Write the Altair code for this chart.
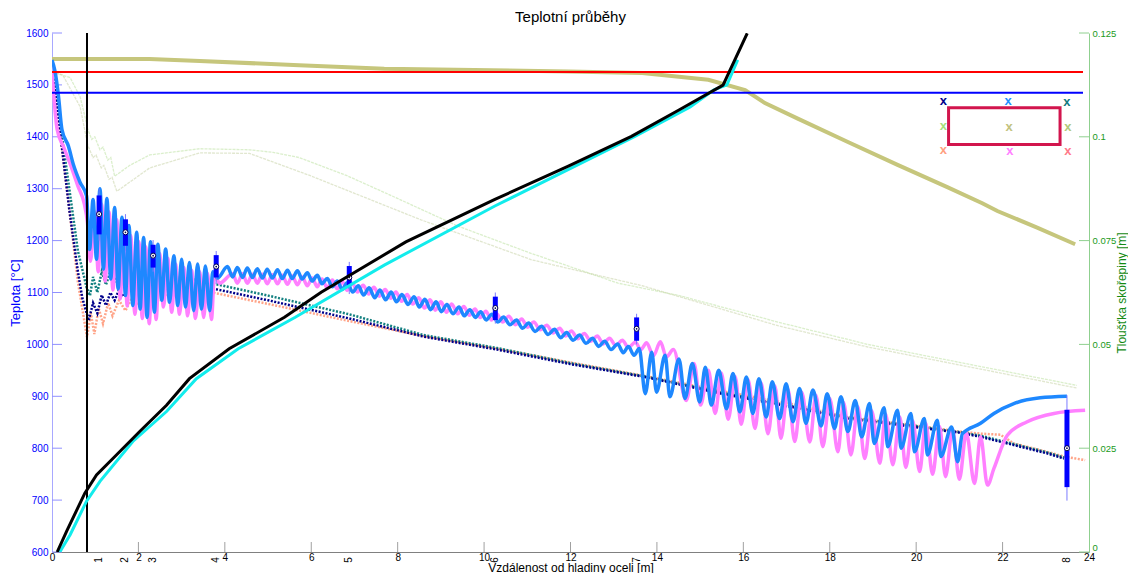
import altair as alt
import pandas as pd

FONT = "Liberation Sans"
W, H = 1037, 519

# ---------------- data (x in m, temperature in °C, thickness in m) ----------------
x_ticks = list(range(0, 25, 2))
x_inner_ticks = list(range(2, 23, 2))
t_ticks = list(range(600, 1601, 100))
d_ticks = [0, 0.025, 0.05, 0.075, 0.1, 0.125]

liquidus_t = 1525
solidus_t = 1485
meniscus_x = 0.81

# surface temperature, middle of top face (blue)
blue_x_start = [0, 0.07, 0.15, 0.23, 0.38, 0.5, 0.65, 0.8, 0.87]
blue_t_start = [1548, 1526, 1478, 1414, 1382, 1345, 1312, 1286, 1183]
blue_x_a = [0.95, 1.03, 1.11, 1.19, 1.27, 1.36, 1.45, 1.53, 1.62, 1.70, 1.78, 1.87, 1.96, 2.04,
            2.12, 2.20, 2.28, 2.37, 2.45, 2.54, 2.63, 2.72, 2.82, 2.91, 3.00, 3.09, 3.18, 3.28,
            3.37, 3.46, 3.55, 3.65, 3.72, 3.83]
blue_t_a = [1279, 1164, 1300, 1145, 1281, 1126, 1264, 1107, 1245, 1094, 1229, 1075, 1216, 1068,
            1206, 1052, 1198, 1062, 1193, 1085, 1184, 1081, 1171, 1075, 1164, 1072, 1158, 1065,
            1155, 1068, 1151, 1065, 1140, 1128]
blue_x_b = [4.06, 4.18, 4.29, 4.41, 4.52, 4.64, 4.75, 4.87, 4.98, 5.10, 5.22, 5.33, 5.45, 5.56,
            5.68, 5.79, 5.91, 6.02, 6.14, 6.25, 6.37, 6.49, 6.60, 6.72, 6.83, 6.96, 7.09, 7.21,
            7.34, 7.47, 7.59, 7.72, 7.85, 7.97, 8.10, 8.24, 8.38, 8.50, 8.63, 8.76, 8.89, 9.01,
            9.14, 9.28, 9.42, 9.54, 9.67, 9.80, 9.92, 10.05, 10.18, 10.32, 10.45, 10.60, 10.75,
            10.89, 11.03, 11.18, 11.33, 11.48, 11.63, 11.77, 11.91, 12.06, 12.21, 12.36, 12.51,
            12.65, 12.79, 12.94, 13.09, 13.22, 13.34, 13.47, 13.59, 13.73]
blue_t_b = [1150, 1130, 1148, 1129, 1147, 1129, 1146, 1128, 1145, 1128, 1144, 1127, 1143, 1127,
            1142, 1126, 1138, 1122, 1133, 1117, 1127, 1111, 1122, 1106, 1119, 1101, 1113, 1095,
            1109, 1090, 1105, 1086, 1101, 1082, 1096, 1077, 1092, 1072, 1087, 1067, 1082, 1063,
            1077, 1059, 1072, 1055, 1067, 1052, 1063, 1047, 1058, 1043, 1053, 1038, 1047,
            1031, 1041, 1025, 1035, 1019, 1029, 1013, 1023, 1008, 1018, 1002, 1012,
            996, 1006, 990, 1001, 984, 996, 979, 992, 905]
blue_x_c = [13.88, 13.99, 14.19, 14.30, 14.51, 14.65, 14.82, 14.99, 15.12, 15.26, 15.43, 15.61,
            15.76, 15.92, 16.07, 16.22, 16.36, 16.53, 16.67, 16.84, 16.99, 17.15, 17.30, 17.45,
            17.61, 17.80, 17.94, 18.11, 18.26, 18.42, 18.59, 18.74, 18.92, 19.03, 19.26, 19.34,
            19.57, 19.65, 19.88, 19.96, 20.19, 20.26, 20.49, 20.57, 20.82, 20.96]
blue_t_c = [985, 908, 979, 899, 972, 896, 963, 889, 956, 883, 950, 876,
            944, 870, 937, 867, 934, 860, 928, 857, 924, 851, 915, 848,
            912, 843, 905, 838, 899, 832, 892, 822, 886, 809, 878, 803,
            873, 800, 867, 793, 857, 787, 854, 784, 841, 774]
blue_x_end = [21.07, 21.49, 21.80, 22.26, 22.87, 23.49]
blue_t_end = [828, 848, 867, 886, 897, 900]

# surface temperature, middle of bottom face (violet)
pink_x_start = [0, 0.12, 0.26, 0.41, 0.6, 0.75, 0.82, 0.89]
pink_t_start = [1526, 1414, 1382, 1350, 1305, 1270, 1235, 1160]
pink_x_a = [0.99, 1.07, 1.15, 1.23, 1.32, 1.41, 1.50, 1.58, 1.66, 1.74, 1.82, 1.92, 2.01, 2.09,
            2.17, 2.25, 2.33, 2.41, 2.49, 2.58, 2.68, 2.77, 2.86, 2.95, 3.05, 3.14, 3.23, 3.32,
            3.42, 3.51, 3.60, 3.69, 3.76, 3.88]
pink_t_a = [1255, 1140, 1270, 1122, 1255, 1105, 1240, 1088, 1225, 1074, 1210, 1058, 1198, 1050,
            1188, 1040, 1180, 1048, 1175, 1072, 1166, 1062, 1155, 1058, 1148, 1055, 1143, 1050,
            1140, 1052, 1137, 1048, 1133, 1118]
pink_x_b = [4.18, 4.29, 4.41, 4.52, 4.64, 4.75, 4.87, 4.98, 5.10, 5.22, 5.33, 5.45, 5.56, 5.68,
            5.79, 5.91, 6.02, 6.14, 6.25, 6.37, 6.49, 6.60, 6.72, 6.83, 6.95, 7.07, 7.20, 7.33,
            7.45, 7.58, 7.71, 7.84, 7.96, 8.09, 8.22, 8.35, 8.49, 8.62, 8.75, 8.87, 9.00, 9.13,
            9.25, 9.39, 9.53, 9.66, 9.79, 9.91, 10.04, 10.17, 10.29, 10.43, 10.57, 10.72, 10.87,
            11.01, 11.15, 11.30, 11.45, 11.60, 11.75, 11.89, 12.02, 12.17, 12.32, 12.47, 12.62,
            12.76, 12.90, 13.05, 13.20, 13.34, 13.50, 13.63, 13.76, 13.92, 14.08, 14.22, 14.38,
            14.68]
pink_t_b = [1136, 1118, 1136, 1118, 1135, 1118, 1135, 1117, 1134, 1117, 1133, 1116, 1132, 1115,
            1130, 1113, 1128, 1111, 1126, 1109, 1124, 1107, 1121, 1104, 1118, 1101, 1114, 1097,
            1110, 1093, 1106, 1089, 1101, 1083, 1096, 1078, 1090, 1070, 1086, 1066, 1082, 1062,
            1078, 1059, 1073, 1056, 1068, 1052, 1064, 1047, 1059, 1043, 1054, 1038, 1049,
            1033, 1043, 1028, 1037, 1022, 1031, 1016, 1026, 1011, 1021, 1006, 1016,
            1001, 1012, 998, 1008, 994, 1004, 990, 1003, 978, 1005, 976, 990,
            892]
pink_x_c = [14.86, 15.01, 15.19, 15.35, 15.49, 15.65, 15.81, 15.95, 16.11, 16.27, 16.41, 16.57,
            16.73, 16.87, 17.03, 17.19, 17.35, 17.54, 17.68, 17.84, 18.00, 18.19, 18.32, 18.49,
            18.65, 18.81, 18.97, 19.16, 19.29, 19.46, 19.62, 19.76, 19.92, 20.08, 20.22, 20.38,
            20.54, 20.68, 20.84, 21.00, 21.16, 21.35, 21.49, 21.65]
pink_t_c = [963, 883, 950, 867, 945, 856, 938, 846, 932, 838, 926, 828,
            920, 819, 914, 813, 908, 812, 902, 803, 896, 793, 888, 787,
            880, 780, 872, 771, 866, 768, 860, 763, 853, 755, 848, 750,
            842, 745, 836, 740, 830, 732, 822, 729]
pink_x_end = [21.80, 22.11, 22.57, 23.19, 23.91]
pink_t_end = [761, 825, 851, 867, 873]

# corner temperatures (dotted)
navy_x = [0, 0.1, 0.2, 0.3, 0.4, 0.5, 0.6, 0.7, 0.85, 0.95, 1.05, 1.15, 1.25, 1.35, 1.45, 1.55,
          1.65, 1.8, 1.95, 2.1, 2.3, 2.5, 2.7, 2.9, 3.1, 3.42, 5.0, 6.88, 8.6, 10.3, 12.0, 13.8,
          15.5, 17.2, 18.42, 19.96, 21.0, 21.49, 22.26, 23.03, 23.42]
navy_t = [1525, 1478, 1400, 1330, 1260, 1200, 1140, 1090, 1046, 1080, 1060, 1095, 1075, 1100,
          1085, 1105, 1092, 1108, 1098, 1110, 1102, 1112, 1106, 1113, 1108, 1113, 1085, 1050,
          1015, 990, 962, 936, 905, 878, 857, 841, 830, 822, 806, 790, 780]
teal_x = [0, 0.2, 0.4, 0.6, 0.8, 0.88, 0.95, 1.05, 1.15, 1.25, 1.35, 1.5, 1.65, 1.8, 2.0, 2.3,
          2.6, 3.0, 3.42, 5.0, 6.88, 8.6, 10.3, 12.0, 13.8, 15.5, 17.2, 18.42, 19.96, 21.0,
          21.49, 22.26, 23.03, 23.42]
teal_t = [1525, 1420, 1300, 1180, 1110, 1094, 1130, 1100, 1140, 1115, 1140, 1120, 1138, 1125,
          1136, 1128, 1133, 1128, 1123, 1094, 1058, 1018, 993, 964, 937, 907, 880, 859, 843,
          831, 824, 808, 792, 782]
salmon_x = [0, 0.2, 0.4, 0.6, 0.81, 0.9, 0.98, 1.08, 1.18, 1.3, 1.4, 1.55, 1.7, 1.85, 2.0, 2.2,
            2.4, 2.7, 3.0, 3.42, 5.0, 6.88, 8.6, 10.3, 12.0, 13.8, 15.5, 17.2, 18.42, 19.96,
            21.0, 21.49, 21.95, 22.26, 23.03, 23.42, 23.91]
salmon_t = [1525, 1400, 1260, 1120, 1014, 1060, 1020, 1070, 1040, 1080, 1055, 1085, 1065, 1090,
            1075, 1093, 1082, 1096, 1092, 1105, 1078, 1045, 1016, 992, 965, 938, 910, 884, 860,
            844, 832, 828, 826, 809, 793, 784, 777]

# side-face temperatures (faint green)
greenA_x = [0, 0.42, 0.65, 0.76, 0.83, 0.92, 0.99, 1.11, 1.18, 1.29, 1.36, 1.45, 1.8, 2.26,
            3.42, 4.57, 5.12, 5.72, 6.83, 8.03, 9.39, 11.1, 11.95, 13.1, 14.52, 16.8, 18.88, 23.72]
greenA_t = [1525, 1514, 1477, 1440, 1414, 1395, 1400, 1375, 1380, 1355, 1360, 1324, 1345, 1365,
            1377, 1375, 1370, 1360, 1325, 1280, 1228, 1175, 1151, 1118, 1094, 1043, 1000, 921]
greenB_x = [0, 0.25, 0.65, 0.83, 0.95, 1.02, 1.14, 1.2, 1.32, 1.39, 1.5, 2.26, 3.42, 4.57, 5.98,
            8.54, 11.1, 13.66, 16.8, 18.88, 23.72]
greenB_t = [1525, 1519, 1458, 1383, 1360, 1365, 1340, 1345, 1318, 1322, 1295, 1340, 1369, 1368,
            1325, 1240, 1163, 1113, 1036, 995, 916]

# centre temperature (olive)
olive_x = [0, 2.26, 3.42, 5.72, 7.69, 11.95, 13.66, 15.19, 16.04, 16.5, 17.26, 18.42, 19.57,
           20.72, 21.53, 21.88, 22.8, 23.68]
olive_t = [1550, 1550, 1546, 1538, 1531, 1526, 1523, 1510, 1490, 1465, 1435, 1390, 1346, 1303,
           1272, 1257, 1225, 1193]

# shell thickness (right axis)
black_x = [0.12, 0.34, 0.76, 1.03, 1.49, 2.03, 2.65, 3.18, 4.10, 5.38, 6.23, 8.19, 10.25, 11.95,
           13.41, 14.52, 15.53, 16.09]
black_d = [0, 0.00504, 0.01416, 0.01855, 0.02335, 0.02903, 0.03534, 0.04175, 0.04894, 0.05655,
           0.06255, 0.07469, 0.08493, 0.09293, 0.10012, 0.10653, 0.11245, 0.12493]
cyan_x = [0.18, 0.42, 0.80, 1.11, 1.87, 2.65, 3.34, 4.31, 5.63, 7.69, 10.25, 13.49, 14.77, 15.32,
          15.62, 15.87]
cyan_d = [0, 0.00415, 0.01224, 0.01703, 0.02663, 0.03383, 0.04175, 0.04894, 0.05655, 0.0691,
          0.08333, 0.10012, 0.10717, 0.11132, 0.11252, 0.11852]

# measurement markers (zones)
zone_lab = ["1", "2", "3", "4", "5", "6", "7", "8"]
zone_x = [1.09, 1.70, 2.34, 3.80, 6.88, 10.26, 13.53, 23.49]
zone_lo = [1200, 1180, 1140, 1116, 1097, 1040, 1000, 699]
zone_q1 = [1212, 1190, 1148, 1129, 1113, 1047, 1007, 725]
zone_med = [1251, 1216, 1171, 1150, 1129, 1070, 1030, 800]
zone_q3 = [1287, 1241, 1192, 1172, 1151, 1092, 1052, 874]
zone_hi = [1300, 1251, 1201, 1180, 1159, 1100, 1059, 902]

# cross-section sketch (legend of positions)
sec_x = [20.75, 23.33]
sec_t = [1456, 1385]
mark_x = [20.63, 22.13, 23.49, 20.63, 22.15, 23.51, 20.63, 22.17, 23.51]
mark_t = [1469, 1469, 1468, 1420, 1419, 1419, 1374, 1373, 1373]
mark_c = ["#00008b", "#1e90ff", "#137a80", "#a6e07a", "#c2c27e", "#b2c87a",
          "#ffa080", "#ff80ff", "#ff7a8a"]

# ---------------- chart ----------------
xs = alt.Scale(domain=[0, 24], nice=False, zero=False)
ts = alt.Scale(domain=[600, 1600], nice=False, zero=False)
dsc = alt.Scale(domain=[0, 0.125], nice=False, zero=False)

x_axis = alt.Axis(values=x_ticks, title="Vzdálenost od hladiny oceli [m]", labelFont=FONT,
                  labelFontSize=10, labelColor="black", ticks=False, domainColor="#808080",
                  grid=False, labelPadding=0, labelFlush=False, titleFont=FONT,
                  titleFontSize=12, titleFontWeight="normal", titleColor="black",
                  titleBaseline="alphabetic", titleY=19)
y_axis = alt.Axis(values=t_ticks, format="d", title="Teplota [°C]", labelFont=FONT,
                  labelFontSize=10, labelColor="#0000ff", ticks=False, labelPadding=4,
                  domainColor="#a8a8ff", grid=False, labelFlush=False, titleFont=FONT,
                  titleFontSize=13, titleFontWeight="normal", titleColor="#0000ff",
                  titlePadding=3)
d_axis = alt.Axis(values=d_ticks, format=".3~f", orient="right", title="Tloušťka skořepiny [m]",
                  labelFont=FONT, labelFontSize=9.5, labelColor="#1a9a1a", ticks=False,
                  labelPadding=3, domainColor="#8fd08f", grid=False, labelFlush=False,
                  labelOffset={"condition": {"test": "datum.value == 0", "value": -5},
                               "value": 0},
                  titleFont=FONT, titleFontSize=12, titleFontWeight="normal",
                  titleColor="#138a13", titleAngle=270, titleBaseline="alphabetic", titleX=36)

X = alt.X("x:Q", scale=xs, axis=x_axis)
Y = alt.Y("y:Q", scale=ts, axis=y_axis)
YD = alt.Y("y:Q", scale=dsc, axis=d_axis)


def frame(x, y):
    return pd.DataFrame({"x": x, "y": y, "i": list(range(len(x)))})


def line(x, y, color, width, dash=None, opacity=1.0, interp="linear", yenc=None):
    kw = dict(color=color, strokeWidth=width, opacity=opacity, clip=True, interpolate=interp)
    if dash:
        kw["strokeDash"] = dash
    return alt.Chart(frame(x, y)).mark_line(**kw).encode(
        x=X, y=yenc if yenc is not None else Y, order=alt.Order("i:Q"))


blue_x = blue_x_start + blue_x_a + blue_x_b + blue_x_c + blue_x_end
blue_t = blue_t_start + blue_t_a + blue_t_b + blue_t_c + blue_t_end
pink_x = pink_x_start + pink_x_a + pink_x_b + pink_x_c + pink_x_end
pink_t = pink_t_start + pink_t_a + pink_t_b + pink_t_c + pink_t_end

bottom_ticks = alt.Chart(pd.DataFrame({"x": x_inner_ticks})).mark_rule(
    color="#a0a0a0", strokeWidth=1).encode(x=X, y=alt.value(H - 10), y2=alt.value(H))
left_ticks = alt.Chart(pd.DataFrame({"y": t_ticks})).mark_rule(
    color="#9090ff", strokeWidth=1).encode(y=Y, x=alt.value(0), x2=alt.value(10))

greenA = line(greenA_x, greenA_t, "#b8e09a", 1.3, dash=[3, 1], opacity=0.5)
greenB = line(greenB_x, greenB_t, "#c4d0a0", 1.3, dash=[3, 1], opacity=0.5)
olive = line(olive_x, olive_t, "#c6c67c", 4)
salmon = line(salmon_x, salmon_t, "#ffa488", 2.5, dash=[2, 1.5])
teal = line(teal_x, teal_t, "#138080", 2.5, dash=[2, 1.5])
navy = line(navy_x, navy_t, "#00008b", 2.5, dash=[2, 1.5])
pink = line(pink_x, pink_t, "#ff80ff", 3.5, interp="monotone")
blue = line(blue_x, blue_t, "#1e88ff", 3.5, interp="monotone")

hlines = alt.Chart(pd.DataFrame({"y": [liquidus_t, solidus_t], "c": ["#ff0000", "#0000ff"]})
                   ).mark_rule(strokeWidth=2).encode(
    y=Y, color=alt.Color("c:N", scale=None), x=alt.value(0), x2=alt.value(W - 6))
vline = alt.Chart(pd.DataFrame({"x": [meniscus_x]})).mark_rule(
    color="black", strokeWidth=2).encode(x=X)

zones = pd.DataFrame({"x": zone_x, "lo": zone_lo, "q1": zone_q1, "med": zone_med,
                      "q3": zone_q3, "hi": zone_hi, "lab": zone_lab})
whisk = alt.Chart(zones).mark_rule(color="#7b7bff", strokeWidth=1).encode(
    x=X, y=alt.Y("lo:Q", scale=ts, axis=y_axis), y2="hi:Q")
box = alt.Chart(zones).mark_rule(color="#0000ff", strokeWidth=5).encode(
    x=X, y=alt.Y("q1:Q", scale=ts, axis=y_axis), y2="q3:Q")
med = alt.Chart(zones).mark_point(shape="circle", filled=True, fill="white", stroke="#000050",
                                  strokeWidth=1, size=26, opacity=1).encode(
    x=X, y=alt.Y("med:Q", scale=ts, axis=y_axis))
med_dot = alt.Chart(zones).mark_point(shape="circle", filled=True, color="#000050",
                                      size=3, opacity=1).encode(
    x=X, y=alt.Y("med:Q", scale=ts, axis=y_axis))
zone_text = alt.Chart(zones).mark_text(angle=270, font=FONT, fontSize=10, color="black",
                                       align="center", baseline="middle").encode(
    x=X, y=alt.value(H + 8), text="lab:N")

sec_rect = alt.Chart(pd.DataFrame({"x": [sec_x[0]], "x2": [sec_x[1]], "y": [sec_t[0]],
                                   "y2": [sec_t[1]]})).mark_rect(
    fill=None, fillOpacity=0, stroke="#d2154d", strokeWidth=3).encode(
    x=X, x2="x2:Q", y=Y, y2="y2:Q")
sec_marks = alt.Chart(pd.DataFrame({"x": mark_x, "y": mark_t, "c": mark_c})).mark_text(
    text="x", font=FONT, fontSize=13, fontWeight="bold", baseline="middle", align="center"
).encode(x=X, y=Y, color=alt.Color("c:N", scale=None))

temp_layer = alt.layer(
    left_ticks, bottom_ticks, greenA, greenB, olive, salmon, teal, navy, pink, blue,
    hlines, whisk, box, med, med_dot, vline, zone_text, sec_rect, sec_marks)

cyan = line(cyan_x, cyan_d, "#12ecec", 3, yenc=YD)
black = line(black_x, black_d, "black", 3, yenc=YD)
right_ticks = alt.Chart(pd.DataFrame({"y": d_ticks})).mark_rule(
    color="#90d090", strokeWidth=1).encode(y=YD, x=alt.value(W - 10), x2=alt.value(W))
thick_layer = alt.layer(right_ticks, cyan, black)

chart = alt.layer(temp_layer, thick_layer).resolve_scale(y="independent").properties(
    width=W, height=H,
    title=alt.TitleParams("Teplotní průběhy", font=FONT, fontSize=15, fontWeight="normal",
                          color="black", anchor="middle", offset=3),
    autosize=alt.AutoSizeParams(type="none"),
    padding={"left": 44, "top": 25, "right": 1120 - 44 - W, "bottom": 565 - 25 - H},
).configure(background="white", view=alt.ViewConfig(stroke=None))

chart.save("out.html", embed_options={"renderer": "svg", "actions": False})
